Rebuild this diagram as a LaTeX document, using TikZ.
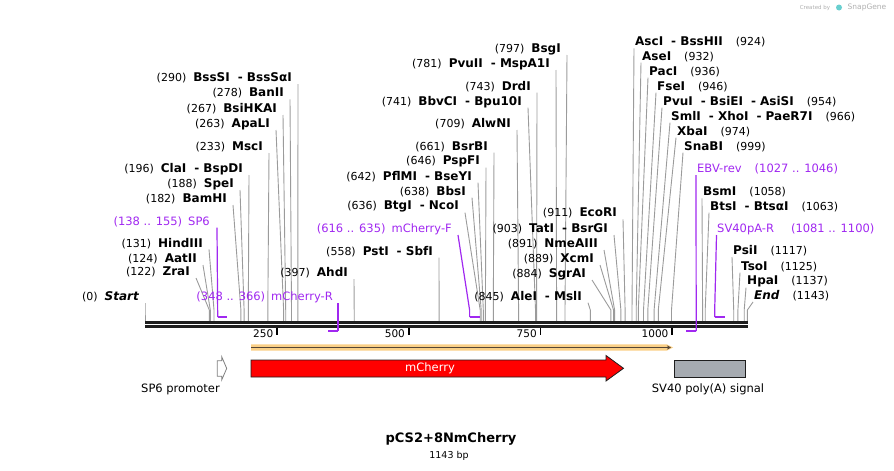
\documentclass[tikz,border=0pt]{standalone}
\usepackage{fontspec}
\setmainfont{DejaVu Sans}
\usetikzlibrary{arrows.meta}
\definecolor{sitegray}{RGB}{155,155,155}
\definecolor{primer}{RGB}{160,40,240}
\definecolor{bb}{RGB}{30,30,30}
\definecolor{orf}{RGB}{250,208,135}
\definecolor{orfline}{RGB}{85,70,55}
\definecolor{polya}{RGB}{166,171,177}
\definecolor{wm}{RGB}{175,175,175}
\newcommand\nm[1]{{\fontsize{11}{13}\selectfont #1}}
\newcommand\en[1]{{\fontsize{12}{14}\selectfont\bfseries #1}}
\newcommand\dsh{\hspace{8pt}- }
\newcommand\lgap{\hspace{7pt}}
\newcommand\rgap{\hspace{13pt}}
\newcommand\lsite[5]{%
  \node[lab, anchor=east] (#1) at (#2,#3) {#5};
  \coordinate (#1c) at (#4,321);
  \draw[site] ([shift={(6pt,-6pt)}]#1.east) -- ([yshift=11pt]#1c) -- (#1c);}
\newcommand\rsite[5]{%
  \node[lab, anchor=west] (#1) at (#2,#3) {#5};
  \coordinate (#1c) at (#4,321);
  \draw[site] ([shift={(-1pt,-6pt)}]#1.west) -- ([yshift=11pt]#1c) -- (#1c);}
\begin{document}
\begin{tikzpicture}[x=1pt,y=-1pt,
  lab/.style={inner sep=0pt, text=black},
  plab/.style={inner sep=0pt, text=primer, font=\fontsize{11.5}{13}\selectfont},
  site/.style={draw=sitegray, line width=0.9pt},
  pline/.style={draw=primer, line width=1.2pt},
  phook/.style={draw=primer, line width=2pt},
  ticklab/.style={inner sep=0pt, font=\fontsize{10.5}{12}\selectfont},
  featlab/.style={inner sep=0pt, font=\fontsize{11.5}{13}\selectfont}]
\path[use as bounding box] (0,0) rectangle (894,471);

% watermark
\node[inner sep=0pt, text=wm, font=\fontsize{5.5}{6}\selectfont] (wm1) at (815,7.5) {Created by};
\fill[wm!60!cyan] (839,7.5) circle (3pt);
\node[inner sep=0pt, text=wm, font=\fontsize{7.5}{8}\selectfont] (wm2) at (867,7.5) {SnapGene};

% left-side sites
\lsite{start}{139}{297}{145}{\nm{(0)}\lgap\en{\itshape Start}}
\lsite{zra}{190}{272}{209.3}{\nm{(122)}\lgap\en{ZraI}}
\lsite{aat}{197}{259}{210.3}{\nm{(124)}\lgap\en{AatII}}
\lsite{hind}{203}{243.3}{214.0}{\nm{(131)}\lgap\en{HindIII}}
\lsite{bam}{227}{199}{240.9}{\nm{(182)}\lgap\en{BamHI}}
\lsite{spe}{234}{184}{244.1}{\nm{(188)}\lgap\en{SpeI}}
\lsite{cla}{243}{169}{248.3}{\nm{(196)}\lgap\en{ClaI\dsh BspDI}}
\lsite{msc}{263}{147}{267.8}{\nm{(233)}\lgap\en{MscI}}
\lsite{apal}{270}{124}{283.6}{\nm{(263)}\lgap\en{ApaLI}}
\lsite{bsihk}{277}{109}{285.7}{\nm{(267)}\lgap\en{BsiHKAI}}
\lsite{ban}{284}{93.3}{291.5}{\nm{(278)}\lgap\en{BanII}}
\lsite{bsss}{292}{78}{297.8}{\nm{(290)}\lgap\en{BssSI\dsh BssSαI}}
\lsite{ahd}{348}{273}{354.2}{\nm{(397)}\lgap\en{AhdI}}
\lsite{pst}{433}{251.7}{439.1}{\nm{(558)}\lgap\en{PstI\dsh SbfI}}
\lsite{btg}{459}{206.7}{480.2}{\nm{(636)}\lgap\en{BtgI\dsh NcoI}}
\lsite{bbs}{466}{191.7}{481.2}{\nm{(638)}\lgap\en{BbsI}}
\lsite{pfl}{472}{176.7}{483.3}{\nm{(642)}\lgap\en{PflMI\dsh BseYI}}
\lsite{pspf}{480}{161.7}{485.4}{\nm{(646)}\lgap\en{PspFI}}
\lsite{bsrb}{488}{146.7}{493.3}{\nm{(661)}\lgap\en{BsrBI}}
\lsite{alwn}{511}{124}{518.6}{\nm{(709)}\lgap\en{AlwNI}}
\lsite{bbvc}{522}{101.7}{535.5}{\nm{(741)}\lgap\en{BbvCI\dsh Bpu10I}}
\lsite{drd}{531}{86.7}{536.6}{\nm{(743)}\lgap\en{DrdI}}
\lsite{pvuii}{550}{64}{556.6}{\nm{(781)}\lgap\en{PvuII\dsh MspA1I}}
\lsite{bsg}{561}{49}{565.0}{\nm{(797)}\lgap\en{BsgI}}
\lsite{ale}{582}{296.7}{590.3}{\nm{(845)}\lgap\en{AleI\dsh MslI}}
\lsite{sgra}{586}{274}{610.9}{\nm{(884)}\lgap\en{SgrAI}}
\lsite{xcm}{594}{259}{613.5}{\nm{(889)}\lgap\en{XcmI}}
\lsite{nme}{598}{244}{614.6}{\nm{(891)}\lgap\en{NmeAIII}}
\lsite{tat}{608}{229}{620.9}{\nm{(903)}\lgap\en{TatI\dsh BsrGI}}
\lsite{eco}{617}{213.3}{625.1}{\nm{(911)}\lgap\en{EcoRI}}

% right-side sites
\rsite{asc}{635}{42.3}{632.0}{\en{AscI\dsh BssHII}\rgap\nm{(924)}}
\rsite{ase}{642}{56.7}{636.2}{\en{AseI}\rgap\nm{(932)}}
\rsite{pac}{649}{71.7}{638.3}{\en{PacI}\rgap\nm{(936)}}
\rsite{fse}{657}{86.7}{643.5}{\en{FseI}\rgap\nm{(946)}}
\rsite{pvui}{663}{101.7}{647.8}{\en{PvuI\dsh BsiEI\dsh AsiSI}\rgap\nm{(954)}}
\rsite{sml}{671}{116.7}{654.1}{\en{SmlI\dsh XhoI\dsh PaeR7I}\rgap\nm{(966)}}
\rsite{xba}{677}{131.7}{658.3}{\en{XbaI}\rgap\nm{(974)}}
\rsite{snab}{684}{146.7}{671.5}{\en{SnaBI}\rgap\nm{(999)}}
\rsite{bsm}{703}{192.3}{702.6}{\en{BsmI}\rgap\nm{(1058)}}
\rsite{bts}{710}{206.7}{705.2}{\en{BtsI\dsh BtsαI}\rgap\nm{(1063)}}
\rsite{psi}{733}{251}{733.7}{\en{PsiI}\rgap\nm{(1117)}}
\rsite{tso}{741}{266.7}{737.9}{\en{TsoI}\rgap\nm{(1125)}}
\rsite{hpa}{747}{281.7}{744.2}{\en{HpaI}\rgap\nm{(1137)}}
\rsite{end}{754}{296}{747.4}{\en{\itshape End}\rgap\nm{(1143)}}

% backbone
\coordinate (bbL) at (145,322.5);
\coordinate (bbR) at (748,322.5);
\draw[bb, line width=3pt] (bbL) -- (bbR);
\draw[bb, line width=2.4pt] ([yshift=-4pt]bbL) -- ([yshift=-4pt]bbR);

% ruler ticks
\foreach \x/\t in {276.9/250, 408.6/500, 540.4/750, 672.1/1000}{
  \draw[black, line width=1.8pt] (\x,327.5) -- (\x,335);
  \node[ticklab, anchor=east] (tk\t) at (\x-3.5,333.5) {\t};
}

% primers
\node[plab, anchor=east] (sp6) at (210,221.7) {(138 .. 155)\hspace{6pt}SP6};
\coordinate (sp6a) at (217.7,317); \coordinate (sp6b) at (226.7,317);
\draw[pline] ([shift={(7pt,-6pt)}]sp6.east) -- (sp6a);
\draw[phook] (sp6a) -- (sp6b);

\node[plab, anchor=east] (mchr) at (333,297) {(348 .. 366)\hspace{6pt}mCherry-R};
\coordinate (mchra) at (338,331); \coordinate (mchrb) at (328.4,331);
\draw[pline] ([shift={(5pt,-6pt)}]mchr.east) -- (mchra);
\draw[phook] (mchra) -- (mchrb);

\node[plab, anchor=east] (mchf) at (452,229) {(616 .. 635)\hspace{6pt}mCherry-F};
\coordinate (mchfa) at (469.6,317); \coordinate (mchfb) at (479.6,317);
\draw[pline] ([shift={(6pt,-6pt)}]mchf.east) -- ([yshift=7pt]mchfa) -- (mchfa);
\draw[phook] (mchfa) -- (mchfb);

\node[plab, anchor=west] (ebv) at (697,169) {EBV-rev\hspace{13pt}(1027 .. 1046)};
\coordinate (ebva) at (696.2,331); \coordinate (ebvb) at (686.2,331);
\draw[pline] ([shift={(-1pt,-6pt)}]ebv.west) -- (ebva);
\draw[phook] (ebva) -- (ebvb);

\node[plab, anchor=west] (sv40r) at (717,229) {SV40pA-R\hspace{17pt}(1081 .. 1100)};
\coordinate (sv40ra) at (714.7,317); \coordinate (sv40rb) at (724.7,317);
\draw[pline] ([shift={(-0.5pt,-6pt)}]sv40r.west) -- ([yshift=7pt]sv40ra) -- (sv40ra);
\draw[phook] (sv40ra) -- (sv40rb);

% ORF
\fill[orf] (251,344.4) -- (667,344.4) -- (673,347.5) -- (667,350.6) -- (251,350.6) -- cycle;
\coordinate (orfA) at (251,347.5); \coordinate (orfB) at (671,347.5);
\draw[orfline, line width=1.4pt, -{Stealth[length=4pt,width=4pt]}] (orfA) -- (orfB);

% features
\draw[fill=red, draw=bb, line width=0.8pt] (251,360) -- (606,360) -- (606,355.5) -- (623.5,368.3) -- (606,381) -- (606,377) -- (251,377) -- cycle;
\node[featlab, text=white] (mcherry) at (430,368.5) {mCherry};
\draw[fill=white, draw=gray, line width=0.8pt] (217.3,360.7) -- (221.7,360.7) -- (221.7,356.7) -- (226.7,368.4) -- (221.7,380) -- (221.7,376.2) -- (217.3,376.2) -- cycle;
\node[featlab] (sp6prom) at (180.5,389.5) {SP6 promoter};
\draw[fill=polya, draw=bb, line width=0.8pt] (674,360) rectangle (745,377);
\node[featlab] (sv40) at (708,389.5) {SV40 poly(A) signal};

% title
\node[inner sep=0pt, font=\fontsize{13}{15}\selectfont\bfseries] (title) at (451,439) {pCS2+8NmCherry};
\node[inner sep=0pt, font=\fontsize{9.5}{11}\selectfont] (bp) at (449,455.5) {1143 bp};
\end{tikzpicture}
\end{document}
